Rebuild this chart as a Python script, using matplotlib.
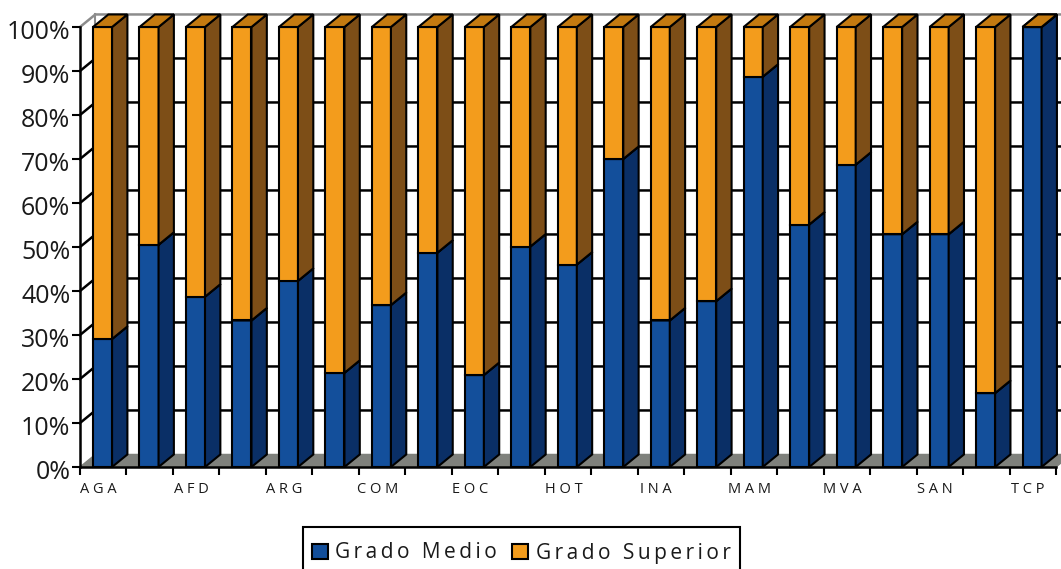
import matplotlib
matplotlib.use("Agg")
import matplotlib.pyplot as plt
from matplotlib.patches import Patch, Polygon, Rectangle
from matplotlib.transforms import ScaledTranslation

categories = ["AGA", "", "AFD", "", "ARG", "", "COM", "", "EOC", "", "HOT",
              "", "INA", "", "MAM", "", "MVA", "", "SAN", "", "TCP"]
grado_medio = [29.1, 50.5, 38.7, 33.3, 42.3, 21.4, 36.8, 48.7, 20.9, 50.1, 46,
               70, 33.3, 37.7, 88.7, 55.1, 68.7, 52.9, 52.9, 16.8, 100]
grado_superior = [100 - v for v in grado_medio]
y_ticks = list(range(0, 101, 10))
series_names = ["Grado Medio", "Grado Superior"]

BLUE = ("#134f9b", "#0a2f66", "#0e3d7c")
ORANGE = ("#f39c1c", "#7d4e17", "#c47a10")
FLOOR = "#7f817c"
WALL = "#8c8c8c"
DX = 0.33    # depth, in categories
DY = 2.85    # depth, in percent
BAR_LEFT = 0.28
BAR_W = 0.41
LW = 1.5


def spaced(text, sep="\u2009"):
    return sep.join(text)


def box(ax, x, y0, y1, colors):
    front, side, top = colors
    w = BAR_W
    kw = dict(edgecolor="black", linewidth=LW, joinstyle="miter", clip_on=False, zorder=3)
    ax.add_patch(Polygon([(x, y0), (x + w, y0), (x + w, y1), (x, y1)], facecolor=front, **kw))
    ax.add_patch(Polygon([(x + w, y0), (x + w + DX, y0 + DY), (x + w + DX, y1 + DY), (x + w, y1)],
                         facecolor=side, **kw))
    ax.add_patch(Polygon([(x, y1), (x + w, y1), (x + w + DX, y1 + DY), (x + DX, y1 + DY)],
                         facecolor=top, **kw))


plt.rcParams["font.family"] = ["Open Sans", "DejaVu Sans"]

W, H = 1061, 569
fig = plt.figure(figsize=(W / 100, H / 100), dpi=100)
ax = fig.add_axes([80 / W, (H - 467) / H, 976 / W, 440 / H])
n = len(categories)
ax.set_xlim(0, n)
ax.set_ylim(0, 100)

# walls and floor
ax.add_patch(Polygon([(0, 0), (DX, DY), (n + DX, DY), (n, 0)], facecolor=FLOOR,
                     edgecolor=FLOOR, clip_on=False, zorder=1))
for t in y_ticks:
    if t == 0:
        continue
    col = WALL if t == 100 else "black"
    ax.plot([0, DX, n + DX], [t, t + DY, t + DY], color=col, lw=LW + 0.3, clip_on=False, zorder=1,
            solid_joinstyle="miter")
ax.plot([DX, DX], [DY, 100 + DY], color=WALL, lw=LW, clip_on=False, zorder=1)

for i in range(n):
    x = i + BAR_LEFT
    box(ax, x, 0, grado_medio[i], BLUE)
    box(ax, x, grado_medio[i], grado_medio[i] + grado_superior[i], ORANGE)

ax.set_yticks(y_ticks)
ax.set_yticklabels([f"{t}%" for t in y_ticks], fontsize=18, color="#1a1a1a")
ax.set_xticks(range(n + 1))
ax.set_xticklabels([])
ax.set_xticks([i + 0.40 for i in range(n)], minor=True)
ax.set_xticklabels([" ".join(c) for c in categories], minor=True, fontsize=10.5, color="#1a1a1a")
ax.tick_params(axis="x", which="minor", length=0, pad=11)
ax.tick_params(axis="both", which="major", length=5.5, width=LW, color="black")
ax.tick_params(axis="y", pad=1.5)
down = ScaledTranslation(0, -1.5 / 72, fig.dpi_scale_trans)
for lab in ax.get_yticklabels():
    lab.set_transform(lab.get_transform() + down)
for s in ["top", "right"]:
    ax.spines[s].set_visible(False)
for s in ["left", "bottom"]:
    ax.spines[s].set_linewidth(LW + 0.3)
    ax.spines[s].set_zorder(5)

# legend box runs past the bottom of the picture, as in the original
fig.add_artist(Rectangle((303 / W, -6 / H), 437 / W, (H - 527 + 6) / H, transform=fig.transFigure,
                         facecolor="white", edgecolor="black", linewidth=1.5))
handles = [Patch(facecolor=BLUE[0], edgecolor="black", linewidth=1.5),
           Patch(facecolor=ORANGE[0], edgecolor="black", linewidth=1.5)]
leg = fig.legend(handles, [spaced(s) for s in series_names], loc="center",
                 bbox_to_anchor=(521 / W, (H - 553) / H), ncol=2, fontsize=15,
                 frameon=False, borderpad=0, borderaxespad=0, handlelength=0.77,
                 handleheight=0.72, handletextpad=0.35, columnspacing=0.75,
                 labelcolor="#1a1a1a")
leg.set_zorder(10)

fig.savefig("out.png", dpi=100)
